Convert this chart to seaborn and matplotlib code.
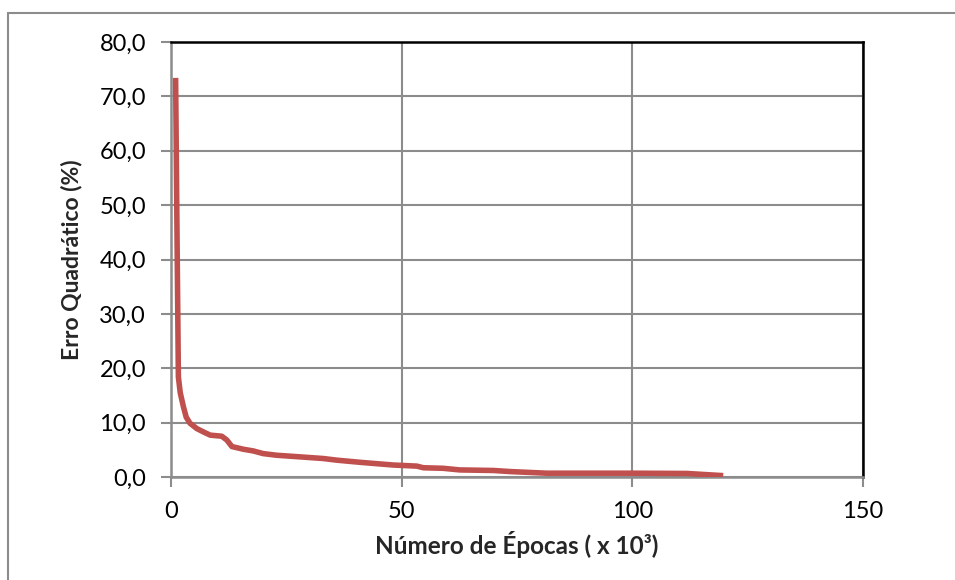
import matplotlib
matplotlib.use("Agg")
import matplotlib.pyplot as plt
import seaborn as sns
import pandas as pd
from matplotlib.lines import Line2D
from matplotlib.ticker import FuncFormatter

epocas = [1.0, 1.3, 1.6, 2.0, 2.7, 3.3, 4.1, 5.6, 7.0, 8.5, 11.0, 12.1, 13.2, 15.7, 17.8, 20.0,
          22.9, 28.0, 33.0, 35.9, 41.0, 48.2, 53.3, 54.7, 59.0, 62.6, 69.9, 73.5, 81.4, 100.2, 111.8, 119.7]
erro = [73.4, 45.0, 18.4, 15.5, 12.9, 11.0, 9.9, 8.9, 8.3, 7.7, 7.5, 6.8, 5.6, 5.1, 4.8, 4.3,
        4.0, 3.7, 3.4, 3.1, 2.7, 2.2, 2.0, 1.7, 1.6, 1.3, 1.2, 1.0, 0.7, 0.7, 0.65, 0.25]

x_ticks = [0, 50, 100, 150]
y_ticks = [0, 10, 20, 30, 40, 50, 60, 70, 80]

sns.set_theme(style="white")
plt.rcParams['font.family'] = ['Lato', 'DejaVu Sans']

df = pd.DataFrame({"epocas": epocas, "erro": erro})

fig = plt.figure(figsize=(9.55, 5.8), dpi=100)
fig.patch.set_facecolor("white")
# outer chart border (only left and top visible in the reference)
fx, fy = 8 / 955, 1 - 13 / 580
fig.add_artist(Line2D([fx, fx], [0, fy], transform=fig.transFigure, color="#8c8c8c", linewidth=1.5))
fig.add_artist(Line2D([fx, 1], [fy, fy], transform=fig.transFigure, color="#8c8c8c", linewidth=1.5))

ax = fig.add_axes([171 / 955, 1 - 477 / 580, (863 - 171) / 955, (477 - 42) / 580])
sns.lineplot(data=df, x="epocas", y="erro", ax=ax, color="#C0504D", linewidth=4.0,
             solid_capstyle="butt", zorder=3)

ax.set_xlim(0, 150)
ax.set_ylim(0, 80)
ax.set_xticks(x_ticks)
ax.set_yticks(y_ticks)
ax.yaxis.set_major_formatter(FuncFormatter(lambda v, p: f"{v:.1f}".replace(".", ",")))
ax.grid(True, color="#8c8c8c", linewidth=1.5)
ax.set_axisbelow(True)

for s in ["left", "bottom"]:
    ax.spines[s].set_color("#8c8c8c")
    ax.spines[s].set_linewidth(1.8)
for s in ["top", "right"]:
    ax.spines[s].set_color("black")
    ax.spines[s].set_linewidth(1.8)

ax.tick_params(axis="both", which="major", direction="out", length=7, width=1.5,
               color="#8c8c8c", labelsize=17, labelcolor="black", left=True, bottom=True)
ax.tick_params(axis="y", pad=11)
ax.tick_params(axis="x", pad=10)

ax.set_xlabel("Número de Épocas ( x 10³)", fontsize=17.5, fontweight="bold", labelpad=7)
ax.set_ylabel("Erro Quadrático (%)", fontsize=16.5, fontweight="bold", labelpad=12)

fig.savefig("out.png", dpi=100)
